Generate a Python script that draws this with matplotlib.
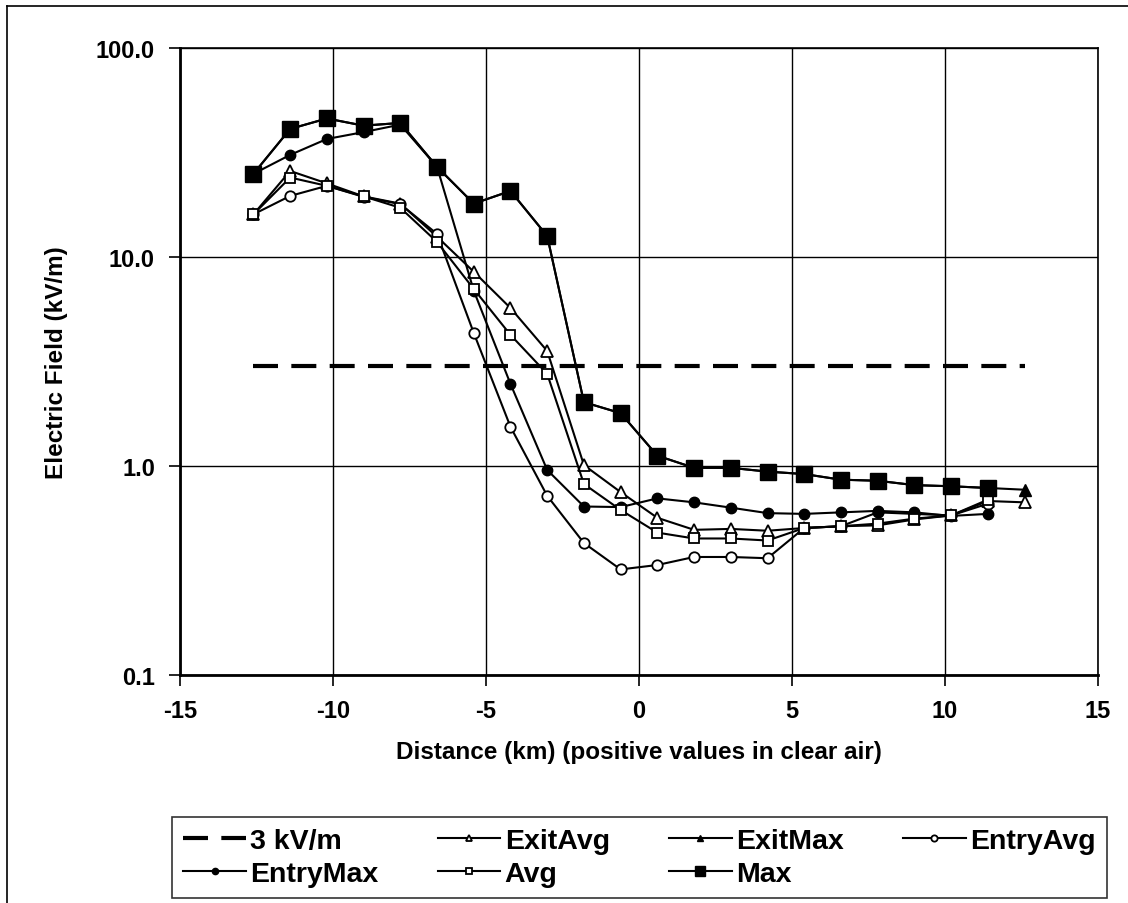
import matplotlib
matplotlib.use("Agg")
import matplotlib.pyplot as plt
from matplotlib.lines import Line2D

plt.rcParams['font.family'] = ['Liberation Sans', 'DejaVu Sans']
plt.rcParams['font.weight'] = 'bold'

# ---- data ----
distance = [-12.6, -11.4, -10.2, -9.0, -7.8, -6.6, -5.4, -4.2, -3.0, -1.8, -0.6,
            0.6, 1.8, 3.0, 4.2, 5.4, 6.6, 7.8, 9.0, 10.2, 11.4, 12.6]

threshold = [3.0] * len(distance)

exit_avg = [16.0, 25.8, 22.5, 19.5, 18.0, 12.5, 8.5, 5.7, 3.55, 1.01, 0.75,
            0.565, 0.495, 0.50, 0.49, 0.505, 0.515, 0.52, 0.555, 0.58, 0.68, 0.67]

exit_max = [25.0, 41.0, 46.0, 42.5, 43.8, 27.0, 18.0, 20.7, 12.6, 2.02, 1.79,
            1.12, 0.98, 0.98, 0.94, 0.915, 0.86, 0.85, 0.81, 0.80, 0.785, 0.77]

entry_avg = [16.0, 19.6, 21.9, 19.4, 17.9, 12.9, 4.33, 1.54, 0.72, 0.428, 0.32,
             0.336, 0.367, 0.367, 0.362, 0.505, 0.515, 0.60, 0.59, 0.58, 0.66]

entry_max = [25.0, 30.8, 36.7, 39.6, 43.0, 27.0, 6.9, 2.47, 0.957, 0.64, 0.636,
             0.70, 0.67, 0.632, 0.595, 0.59, 0.60, 0.61, 0.60, 0.577, 0.59]

avg = [16.0, 24.0, 21.9, 19.5, 17.2, 11.8, 7.03, 4.24, 2.76, 0.82, 0.616,
       0.48, 0.45, 0.45, 0.44, 0.505, 0.515, 0.53, 0.56, 0.58, 0.69]

max_ = [25.0, 41.0, 46.0, 42.5, 43.8, 27.0, 18.0, 20.7, 12.6, 2.02, 1.79,
        1.12, 0.98, 0.98, 0.94, 0.915, 0.86, 0.85, 0.81, 0.80, 0.785]

x_ticks = [-15, -10, -5, 0, 5, 10, 15]
y_ticks = [0.1, 1.0, 10.0, 100.0]
y_tick_labels = ["0.1", "1.0", "10.0", "100.0"]

# ---- figure ----
fig = plt.figure(figsize=(11.28, 9.04), dpi=100)
ax = fig.add_axes([180/1128, 1 - 676/904, (1098-180)/1128, (676-49)/904])

lw = 1.5
h = {}
h['3 kV/m'], = ax.plot(distance, threshold, color='black', lw=3.0, dashes=(6, 3.2),
                       label='3 kV/m', zorder=3)
h['ExitAvg'], = ax.plot(distance, exit_avg, color='black', lw=lw, marker='^', ms=8,
                        mfc='white', mec='black', mew=1.3, label='ExitAvg', zorder=4)
h['ExitMax'], = ax.plot(distance, exit_max, color='black', lw=lw, marker='^', ms=8,
                        mfc='black', mec='black', label='ExitMax', zorder=4)
h['EntryAvg'], = ax.plot(distance[:len(entry_avg)], entry_avg, color='black', lw=lw,
                         marker='o', ms=7.5, mfc='white', mec='black', mew=1.3,
                         label='EntryAvg', zorder=4)
h['EntryMax'], = ax.plot(distance[:len(entry_max)], entry_max, color='black', lw=lw,
                         marker='o', ms=7.5, mfc='black', mec='black',
                         label='EntryMax', zorder=5)
h['Avg'], = ax.plot(distance[:len(avg)], avg, color='black', lw=lw, marker='s', ms=7,
                    mfc='white', mec='black', mew=1.3, label='Avg', zorder=5)
h['Max'], = ax.plot(distance[:len(max_)], max_, color='black', lw=lw, marker='s', ms=12,
                    mfc='black', mec='black', label='Max', zorder=6)

ax.set_yscale('log')
ax.set_xlim(-15, 15)
ax.set_ylim(0.1, 100)
ax.set_xticks(x_ticks)
ax.set_xticklabels([str(t) for t in x_ticks])
ax.set_yticks(y_ticks)
ax.set_yticklabels(y_tick_labels)
ax.yaxis.set_minor_locator(matplotlib.ticker.NullLocator())
ax.grid(True, which='major', color='black', lw=1.0)
ax.tick_params(axis='both', direction='out', length=8, width=1.2, labelsize=17)
ax.tick_params(axis='y', pad=10)
ax.tick_params(axis='x', pad=9)
for lab in ax.get_xticklabels() + ax.get_yticklabels():
    lab.set_fontweight('bold')
for s in ax.spines.values():
    s.set_linewidth(1.2)
ax.spines['left'].set_linewidth(2.0)
ax.spines['bottom'].set_linewidth(2.0)

ax.set_xlabel('Distance (km) (positive values in clear air)', fontsize=17.5,
              fontweight='bold', labelpad=13)
ax.set_ylabel('Electric Field (kV/m)', fontsize=17.5, fontweight='bold',
              labelpad=20)

order = ['3 kV/m', 'EntryMax', 'ExitAvg', 'Avg', 'ExitMax', 'Max', 'EntryAvg']
leg = fig.legend([h[k] for k in order], order, loc='lower left', ncol=4, mode='expand',
                 bbox_to_anchor=(172/1128, 1 - 899/904, (1107-172)/1128, 87/904),
                 borderaxespad=0.0,
                 frameon=True, fancybox=False, edgecolor='black',
                 handlelength=2.2, handletextpad=0.15, columnspacing=0.5,
                 labelspacing=0.22, borderpad=0.4, markerscale=0.6,
                 prop={'weight': 'bold', 'size': 20.5})
leg.get_frame().set_linewidth(1.2)

# outer chart border (top and left visible)
fig.add_artist(Line2D([7/1128, 1], [1 - 7/904, 1 - 7/904], color='black', lw=1.2))
fig.add_artist(Line2D([7/1128, 7/1128], [0, 1 - 7/904], color='black', lw=1.2))

fig.savefig('out.png', dpi=100)
